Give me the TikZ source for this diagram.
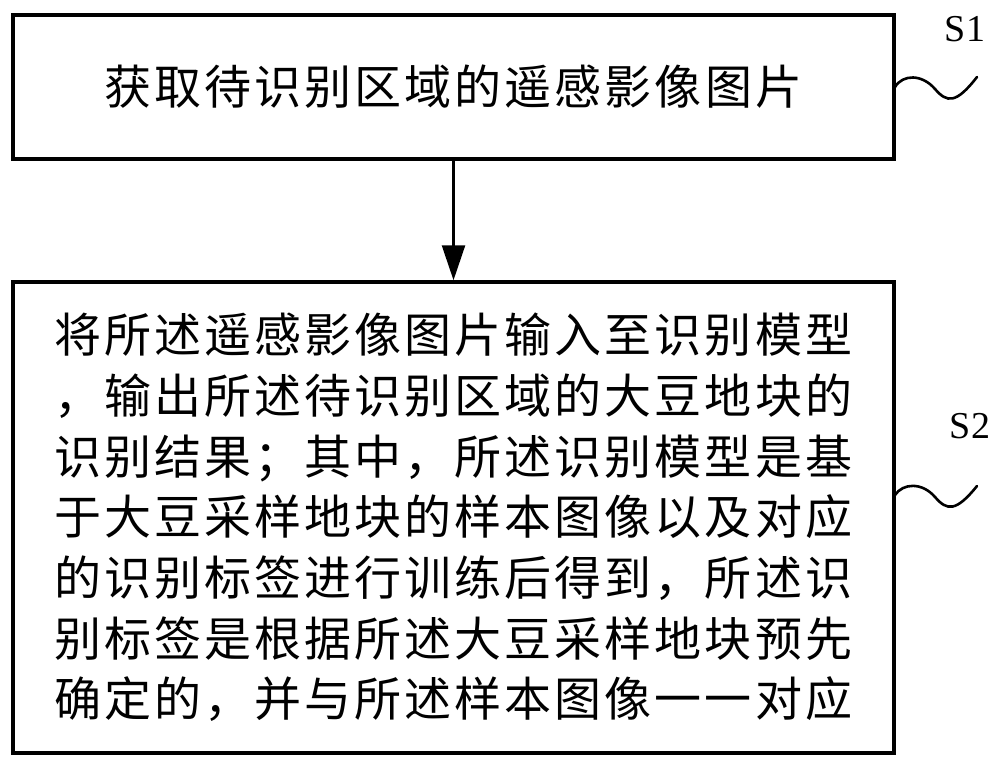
\documentclass[tikz,border=0pt]{standalone}
\usepackage{fontspec}
\setmainfont{Liberation Serif}
\newfontfamily\cjk[LetterSpace=6.4]{Noto Sans CJK SC}
\usetikzlibrary{arrows.meta}

\tikzset{
    stepbox/.style={draw, line width=3.5pt, minimum width=881pt, inner sep=0pt},
    steptext/.style={font={\cjk\fontsize{47}{60.7}\selectfont}, align=left},
    wave/.style={line width=2.6pt, line cap=round}
}

\begin{document}
\begin{tikzpicture}[x=1pt, y=-1pt]
    \useasboundingbox (0,0) rectangle (1000,767);

    % Step boxes
    \node[stepbox, minimum height=144pt, steptext] (getimage) at (453.5,87) {获取待识别区域的遥感影像图片};
    \node[stepbox, minimum height=471pt, steptext] (recognize) at (453.5,517.5)
        {将所述遥感影像图片输入至识别模型\\
         ，输出所述待识别区域的大豆地块的\\
         识别结果；其中，所述识别模型是基\\
         于大豆采样地块的样本图像以及对应\\
         的识别标签进行训练后得到，所述识\\
         别标签是根据所述大豆采样地块预先\\
         确定的，并与所述样本图像一一对应};

    % Flow arrow
    \draw[-{Triangle[length=35pt, width=23pt]}, line width=2.5pt] (getimage) -- (recognize);

    % Step labels
    \node[font=\fontsize{38}{40}\selectfont] (s1) at (965,29) {S1};
    \node[font=\fontsize{38}{40}\selectfont] (s2) at (970,426) {S2};
    \draw[wave] (895,87) .. controls (903,74) and (922,74) .. (935,89)
        .. controls (947,103) and (956,104) .. (977,77);
    \draw[wave] (895,495) .. controls (903,483) and (922,482) .. (935,497)
        .. controls (947,511) and (956,512) .. (977,486);
\end{tikzpicture}
\end{document}
